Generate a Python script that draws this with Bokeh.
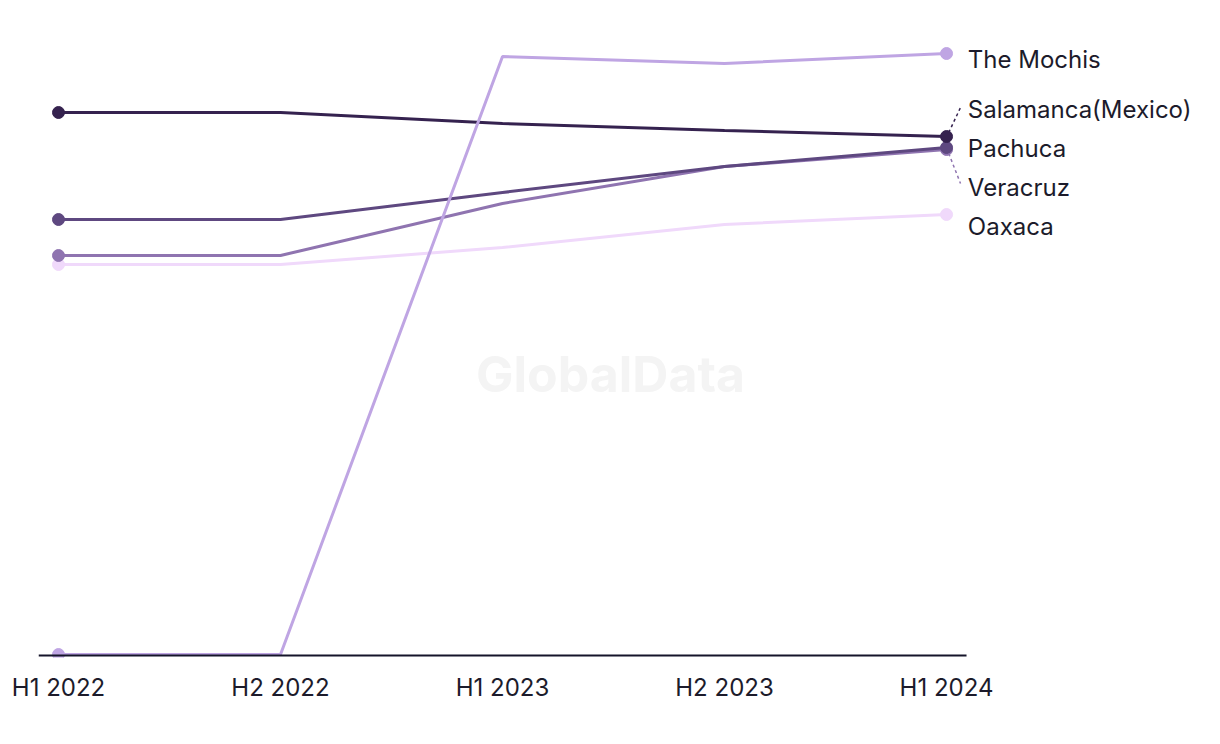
from bokeh.plotting import figure
from bokeh.models import Label, Range1d, FixedTicker
from bokeh.core.properties import value
from bokeh.embed import file_html
from bokeh.resources import INLINE

periods = ["H1 2022", "H2 2022", "H1 2023", "H2 2023", "H1 2024"]
series_names = ["The Mochis", "Salamanca(Mexico)", "Pachuca", "Veracruz", "Oaxaca"]
mochis = [0.0, 0.0, 59.8, 59.1, 60.1]
salamanca = [54.2, 54.2, 53.1, 52.4, 51.8]
pachuca = [43.5, 43.5, 46.2, 48.8, 50.7]
veracruz = [39.9, 39.9, 45.1, 48.8, 50.5]
oaxaca = [39.0, 39.0, 40.7, 43.0, 44.0]
colors = ["#bfa5e3", "#35224f", "#5e4880", "#8f74b0", "#f0d9fb"]

all_series = [mochis, salamanca, pachuca, veracruz, oaxaca]
xs = list(range(len(periods)))

FONT = "Inter"
W, H = 1212, 736
BL, BT, BB, BR = 38, 20, 79, 4
p = figure(width=W, height=H, output_backend="svg", toolbar_location=None,
           min_border_left=BL, min_border_right=BR, min_border_top=BT, min_border_bottom=BB,
           x_range=Range1d(-0.0901, 5.18), y_range=Range1d(-0.3, 63.4))
p.outline_line_color = None
p.grid.visible = False
p.yaxis.visible = False
p.xaxis.ticker = FixedTicker(ticks=xs)
p.xaxis.major_label_overrides = {i: s for i, s in enumerate(periods)}
p.xaxis.axis_line_color = None
p.xaxis.major_tick_line_color = None
p.xaxis.minor_tick_line_color = None
p.xaxis.major_label_text_font = FONT
p.xaxis.major_label_text_font_size = "24px"
p.xaxis.major_label_text_color = "#1c1b2b"
p.xaxis.major_label_standoff = 9

# watermark
p.add_layout(Label(x=572, y=284, x_units="screen", y_units="screen",
                   text="GlobalData", text_font=FONT, text_font_style="bold",
                   text_font_size="50px", text_color="#f4f4f4",
                   text_align="center", text_baseline="middle"))

for vals, c in reversed(list(zip(all_series, colors))):
    p.line(xs, vals, line_color=c, line_width=3)
    p.scatter([xs[0], xs[-1]], [vals[0], vals[-1]], size=12, fill_color=c, line_color=c)

# baseline
p.segment(x0=[-0.0901], y0=[-0.1], x1=[4.0901], y1=[-0.1], line_color="#15142a", line_width=2)

# label de-overlap
ends = [v[-1] for v in all_series]
order = sorted(range(len(ends)), key=lambda i: -ends[i])
gap = 3.9
pos = {i: ends[i] for i in order}
for _ in range(200):
    moved = False
    for a, b in zip(order[:-1], order[1:]):
        d = pos[a] - pos[b]
        if d < gap:
            s = (gap - d) / 2
            pos[a] += s
            pos[b] -= s
            moved = True
    if not moved:
        break

lx = xs[-1] + 0.096
for i in order:
    ly = pos[i] - 0.6
    if abs(pos[i] - ends[i]) > 1.0:
        up = pos[i] > ends[i]
        p.line([xs[-1] + 0.01, xs[-1] + 0.063],
               [ends[i] + (0.4 if up else -0.4), ly + (0.2 if up else 0.4)],
               line_color=colors[i], line_width=1.5, line_dash="3 3")
    p.text(x=[lx], y=[ly], text=[series_names[i]], text_font=value(FONT),
           text_font_size="24px", text_color="#1c1b2b", text_baseline="middle")

open("out.html", "w").write(file_html(p, INLINE))
